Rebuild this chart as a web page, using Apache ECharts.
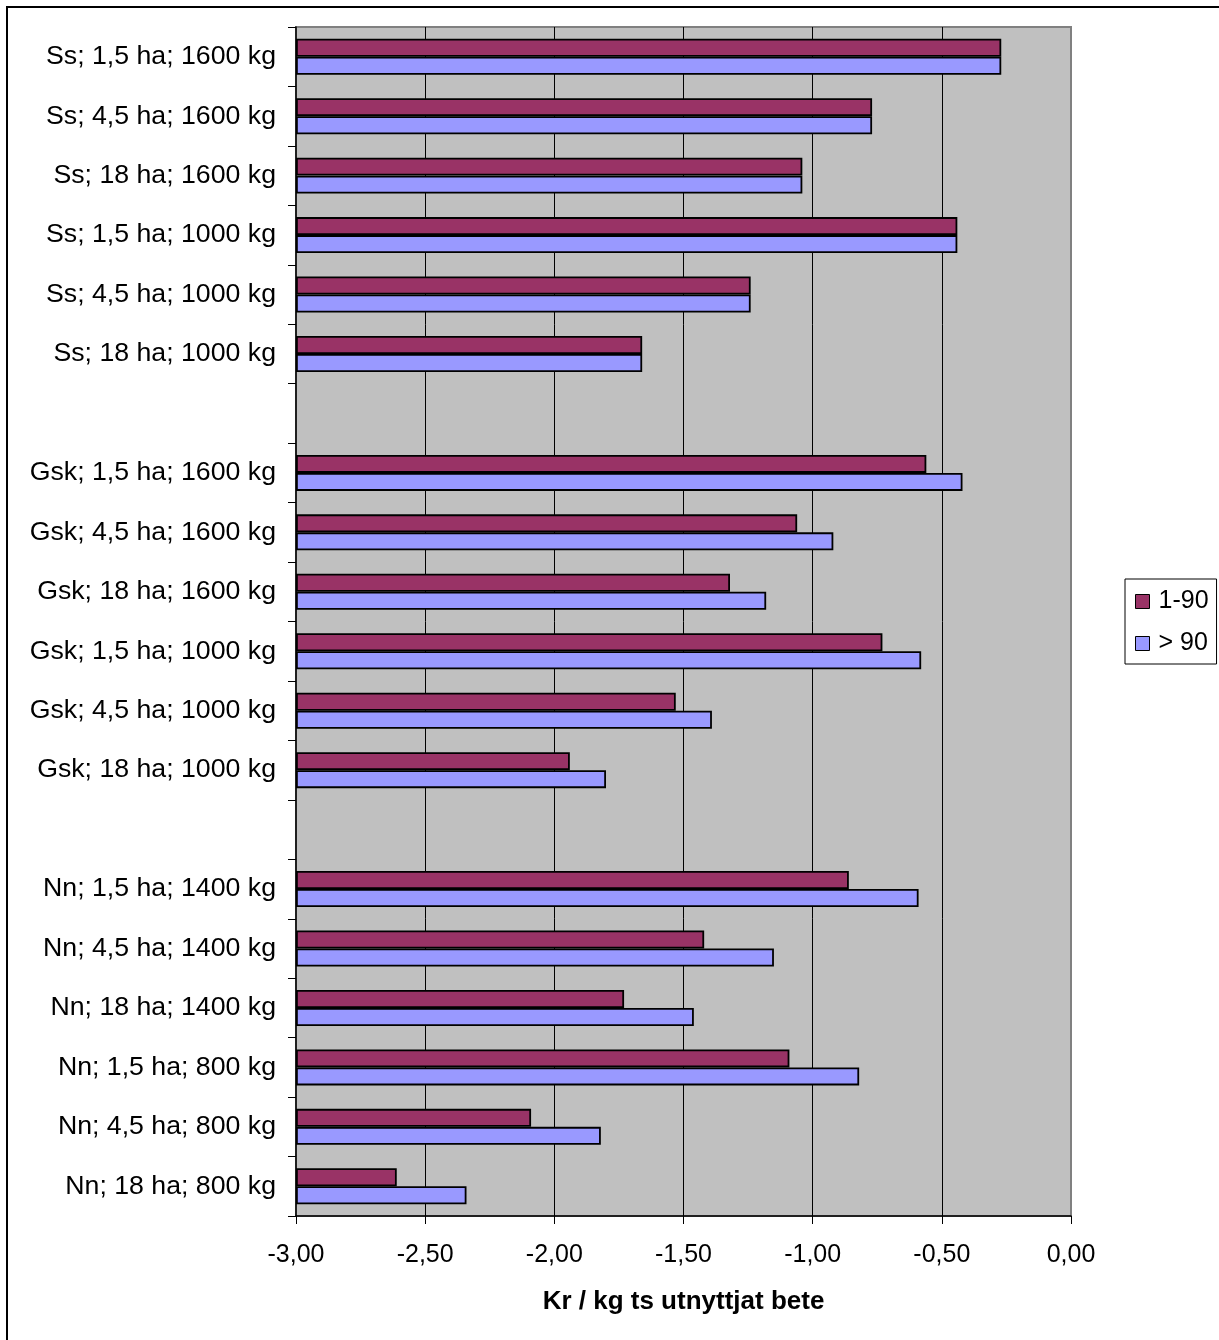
<!DOCTYPE html>
<html>
<head>
<meta charset="utf-8">
<title>Kr / kg ts utnyttjat bete</title>
<script src="https://cdn.jsdelivr.net/npm/echarts@6/dist/echarts.min.js"></script>
<style>
  html, body { margin: 0; padding: 0; background: #ffffff; }
  #chart { width: 1219px; height: 1340px; }
</style>
</head>
<body>
<div id="chart"></div>
<script>
// Categories, top to bottom; the blank entries are the spacer rows between the groups.
const categories = [
  'Ss; 1,5 ha; 1600 kg',
  'Ss; 4,5 ha; 1600 kg',
  'Ss; 18 ha; 1600 kg',
  'Ss; 1,5 ha; 1000 kg',
  'Ss; 4,5 ha; 1000 kg',
  'Ss; 18 ha; 1000 kg',
  ' ',
  'Gsk; 1,5 ha; 1600 kg',
  'Gsk; 4,5 ha; 1600 kg',
  'Gsk; 18 ha; 1600 kg',
  'Gsk; 1,5 ha; 1000 kg',
  'Gsk; 4,5 ha; 1000 kg',
  'Gsk; 18 ha; 1000 kg',
  '  ',
  'Nn; 1,5 ha; 1400 kg',
  'Nn; 4,5 ha; 1400 kg',
  'Nn; 18 ha; 1400 kg',
  'Nn; 1,5 ha; 800 kg',
  'Nn; 4,5 ha; 800 kg',
  'Nn; 18 ha; 800 kg'
];

const seriesNames = ['1-90', '> 90'];

// Kr / kg ts utnyttjat bete
const values1to90 = [
  -0.27, -0.77, -1.04, -0.44, -1.24, -1.66,
  null,
  -0.56, -1.06, -1.32, -0.73, -1.53, -1.94,
  null,
  -0.86, -1.42, -1.73, -1.09, -2.09, -2.61
];
const valuesOver90 = [
  -0.27, -0.77, -1.04, -0.44, -1.24, -1.66,
  null,
  -0.42, -0.92, -1.18, -0.58, -1.39, -1.80,
  null,
  -0.59, -1.15, -1.46, -0.82, -1.82, -2.34
];

// Value axis range and tick step
const axisFloor = -3.0;
const axisCeil = 0.0;
const axisStep = 0.5;
const axisTitle = 'Kr / kg ts utnyttjat bete';

const FONT = '"Liberation Sans", Arial, Helvetica, sans-serif';

// Bars grow from the axis floor, so each value is measured from -3,00.
const fromFloor = arr => arr.map(v => (v === null ? null : +(v - axisFloor).toFixed(4)));
const fmt = v => (v + axisFloor).toFixed(2).replace('.', ',').replace(/^-0,00$/, '0,00');

const chart = echarts.init(document.getElementById('chart'), null, { renderer: 'canvas' });

const barStyle = (color) => ({
  color: color,
  borderColor: '#000000',
  borderWidth: 1.8
});

chart.setOption({
  animation: false,
  backgroundColor: '#ffffff',
  textStyle: { fontFamily: FONT },
  graphic: [{
    type: 'rect',
    silent: true,
    z: 100,
    shape: { x: 7, y: 7, width: 1260, height: 1400 },
    style: { fill: 'none', stroke: '#000000', lineWidth: 2 }
  }],
  legend: {
    orient: 'vertical',
    left: 1125,
    top: 579,
    padding: [10, 8, 8, 10],
    itemGap: 17,
    itemWidth: 14,
    itemHeight: 14,
    icon: 'rect',
    borderColor: '#000000',
    borderWidth: 1,
    backgroundColor: '#ffffff',
    itemStyle: { borderColor: '#000000', borderWidth: 1 },
    textStyle: { fontSize: 25, color: '#000000', fontFamily: FONT, lineHeight: 25, padding: [0, 0, 0, 4] },
    selectedMode: false,
    data: seriesNames
  },
  grid: {
    left: 296,
    top: 27,
    right: 148,
    bottom: 124,
    show: true,
    backgroundColor: '#C0C0C0',
    borderColor: '#808080',
    borderWidth: 2,
    outerBoundsMode: 'none'
  },
  xAxis: {
    type: 'value',
    min: 0,
    max: axisCeil - axisFloor,
    interval: axisStep,
    name: axisTitle,
    nameLocation: 'middle',
    nameGap: 73,
    nameTextStyle: { fontSize: 26, fontWeight: 'bold', color: '#000000', fontFamily: FONT },
    axisLine: { show: true, onZero: false, lineStyle: { color: '#000000', width: 1.5 } },
    axisTick: { show: true, inside: false, length: 8, lineStyle: { color: '#000000', width: 1 } },
    axisLabel: { formatter: fmt, fontSize: 25, color: '#000000', margin: 27, fontFamily: FONT },
    splitLine: {
      show: true,
      showMinLine: false,
      showMaxLine: false,
      lineStyle: { color: '#000000', width: 1 }
    }
  },
  yAxis: {
    type: 'category',
    data: categories,
    inverse: true,
    axisLine: { show: true, onZero: false, lineStyle: { color: '#000000', width: 1.5 } },
    axisTick: { show: true, inside: false, length: 8, interval: 0, lineStyle: { color: '#000000', width: 1 } },
    axisLabel: { fontSize: 26.7, color: '#000000', margin: 20, interval: 0, fontFamily: FONT },
    splitLine: { show: false }
  },
  series: [
    {
      name: seriesNames[0],
      type: 'bar',
      data: fromFloor(values1to90),
      barWidth: 18,
      barGap: '0%',
      itemStyle: barStyle('#993366'),
      emphasis: { disabled: true }
    },
    {
      name: seriesNames[1],
      type: 'bar',
      data: fromFloor(valuesOver90),
      barWidth: 18,
      barGap: '0%',
      itemStyle: barStyle('#9999FF'),
      emphasis: { disabled: true }
    }
  ]
});
</script>
</body>
</html>
